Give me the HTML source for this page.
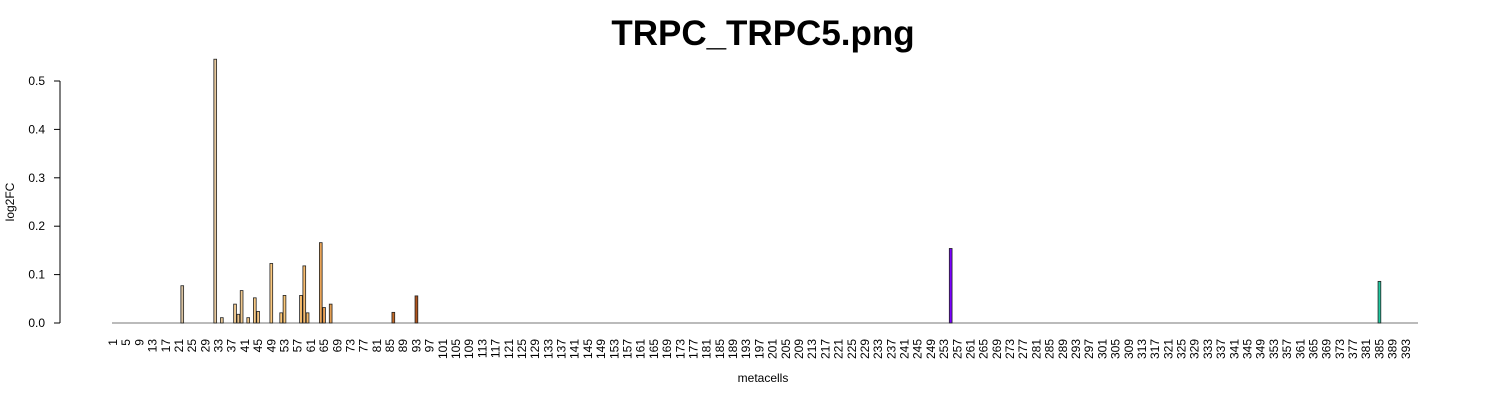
<!DOCTYPE html>
<html><head><meta charset="utf-8"><style>
body{margin:0;background:#fff;}
svg{display:block;font-family:"Liberation Sans",sans-serif;}
</style></head><body>
<svg id="chart" width="1500" height="400">
<text x="763" y="45" text-anchor="middle" font-size="35" font-weight="bold">TRPC_TRPC5.png</text>
<text transform="translate(14,202) rotate(-90)" text-anchor="middle" font-size="12">log2FC</text>
<text x="763" y="382" text-anchor="middle" font-size="12">metacells</text>
<g id="yaxis"></g>
<g id="xaxis"></g>
<g id="bars"></g>
</svg>
<script>
const nBars = 396;
const barIds = [22,32,34,38,39,40,42,44,45,49,52,53,58,59,60,64,65,67,86,93,255,385];
const barValues = [0.077,0.545,0.011,0.039,0.018,0.067,0.011,0.052,0.024,0.123,0.021,0.057,0.057,0.118,0.021,0.166,0.032,0.039,0.022,0.056,0.154,0.086];
const barColors = ["#d9c2a0","#e6c89c","#e8c898","#eec890","#efc68c","#f0c88e","#f2c88a","#f6c884","#f6c682","#fcca80","#fcc87a","#fcc878","#f8be70","#f8bc6e","#f6ba6a","#eaa458","#e8a055","#e49e52","#c46a28","#b0541c","#7a00ff","#20c8a0"];
const yTicks = [0,0.1,0.2,0.3,0.4,0.5];
const yTickLabels = ["0.0","0.1","0.2","0.3","0.4","0.5"];
const ns = "http://www.w3.org/2000/svg";
const x0 = 113, step = 3.298, y0 = 323, yScale = 484;
const xPos = i => x0 + (i-1)*step;
const yPos = v => y0 - v*yScale;
function mk(tag, attrs, parent){const e=document.createElementNS(ns,tag);for(const k in attrs)e.setAttribute(k,attrs[k]);parent.appendChild(e);return e;}
const ya = document.getElementById('yaxis');
const yl = mk('line',{x1:60,x2:60,y1:yPos(0.5),y2:yPos(0),stroke:'#000'},ya);


yTicks.forEach((t,i)=>{
  const tk = mk('line',{x1:54,x2:60,y1:yPos(t),y2:yPos(t),stroke:'#000'},ya);
  
  
  const lb = mk('text',{x:45,y:yPos(t)+4,'text-anchor':'end','font-size':12},ya);
  lb.textContent = yTickLabels[i];
  
  
});
const xa = document.getElementById('xaxis');
const bl = mk('line',{x1:112,x2:1418,y1:y0,y2:y0,stroke:'#777'},xa);


for(let i=1;i<=nBars;i+=4){
  const lb = mk('text',{transform:`translate(${xPos(i)+4},339) rotate(-90)`,'text-anchor':'end','font-size':12},xa);
  lb.textContent = String(i);
  
  
}
const bg = document.getElementById('bars');
const bw = step/1.2;
barIds.forEach((id,k)=>{
  const v = barValues[k];
  const r = mk('rect',{x:xPos(id)-bw/2,y:yPos(v),width:bw,height:v*yScale,fill:barColors[k],stroke:'#222','stroke-width':0.8},bg);
  
  
});
</script>
</body></html>
